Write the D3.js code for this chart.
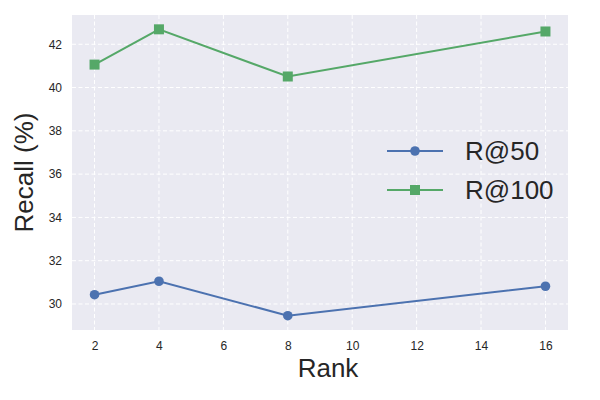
<!DOCTYPE html>
<html><head><meta charset="utf-8">
<script src="https://cdn.jsdelivr.net/npm/d3@7"></script>
<style>body{margin:0;background:#fff}svg{display:block;font-family:"Liberation Sans",Arial,sans-serif}</style>
</head><body><svg id="c" width="600" height="400"></svg>
<script>
const ranks = [2, 4, 8, 16];
const r50 = [30.43, 31.05, 29.46, 30.82];
const r100 = [41.06, 42.69, 40.51, 42.59];
const xTicks = [2, 4, 6, 8, 10, 12, 14, 16];
const yTicks = [30, 32, 34, 36, 38, 40, 42];
const seriesNames = ["R@50", "R@100"];

const svg = d3.select("#c");
const L = 72, R = 568, T = 15, B = 330;
const x = d3.scaleLinear().domain([1.3, 16.7]).range([L, R]);
const allV = r50.concat(r100);
const lo = d3.min(allV), hi = d3.max(allV), pad = (hi - lo) * 0.05;
const y = d3.scaleLinear().domain([lo - pad, hi + pad]).range([B, T]);

svg.append("rect").attr("x", L).attr("y", T).attr("width", R - L).attr("height", B - T).attr("fill", "#EAEAF2");

const g = svg.append("g");
g.selectAll(".gx").data(xTicks).join("line")
  .attr("x1", d => x(d)).attr("x2", d => x(d)).attr("y1", T).attr("y2", B)
  .attr("stroke", "#fff").attr("stroke-width", 1).attr("stroke-dasharray", "4,2.5");
g.selectAll(".gy").data(yTicks).join("line")
  .attr("y1", d => y(d)).attr("y2", d => y(d)).attr("x1", L).attr("x2", R)
  .attr("stroke", "#fff").attr("stroke-width", 1).attr("stroke-dasharray", "4,2.5");

const xAxis = d3.axisBottom(x).tickValues(xTicks).tickSize(0).tickPadding(11).tickFormat(d3.format("d"));
const xa = svg.append("g").attr("transform", `translate(0,${B})`).call(xAxis);
const yAxis = d3.axisLeft(y).tickValues(yTicks).tickSize(0).tickPadding(10).tickFormat(d3.format("d"));
const ya = svg.append("g").attr("transform", `translate(${L},0)`).call(yAxis);
[xa, ya].forEach(a => {
  a.select(".domain").remove();
  a.selectAll("text").attr("font-size", 12).attr("fill", "#262626").attr("font-family", "Liberation Sans, Arial, sans-serif");
});

svg.append("text").attr("x", (L + R) / 2 + 8).attr("y", 377).attr("text-anchor", "middle")
  .attr("font-size", 26).attr("fill", "#262626").text("Rank");
svg.append("text").attr("transform", `translate(33,${(T + B) / 2}) rotate(-90)`).attr("text-anchor", "middle")
  .attr("font-size", 26).attr("fill", "#262626").text("Recall (%)");

const colors = ["#4C72B0", "#55A868"];
const data = [r50, r100];
const line = d3.line().x((d, i) => x(ranks[i])).y(d => y(d));
data.forEach((vals, si) => {
  svg.append("path").datum(vals).attr("d", line).attr("fill", "none")
    .attr("stroke", colors[si]).attr("stroke-width", 2);
  if (si === 0) {
    svg.selectAll(null).data(vals).join("circle")
      .attr("cx", (d, i) => x(ranks[i])).attr("cy", d => y(d)).attr("r", 4.8).attr("fill", colors[si]);
  } else {
    svg.selectAll(null).data(vals).join("rect")
      .attr("x", (d, i) => x(ranks[i]) - 5).attr("y", d => y(d) - 5).attr("width", 10).attr("height", 10).attr("fill", colors[si]);
  }
});

// legend
const lg = svg.append("g");
seriesNames.forEach((name, si) => {
  const cy = 151 + si * 39;
  lg.append("line").attr("x1", 387).attr("x2", 443).attr("y1", cy).attr("y2", cy)
    .attr("stroke", colors[si]).attr("stroke-width", 2);
  if (si === 0) lg.append("circle").attr("cx", 415).attr("cy", cy).attr("r", 4.8).attr("fill", colors[si]);
  else lg.append("rect").attr("x", 410).attr("y", cy - 5).attr("width", 10).attr("height", 10).attr("fill", colors[si]);
  lg.append("text").attr("x", 465).attr("y", cy + 9).attr("font-size", 26).attr("fill", "#262626").text(name);
});
</script></body></html>
